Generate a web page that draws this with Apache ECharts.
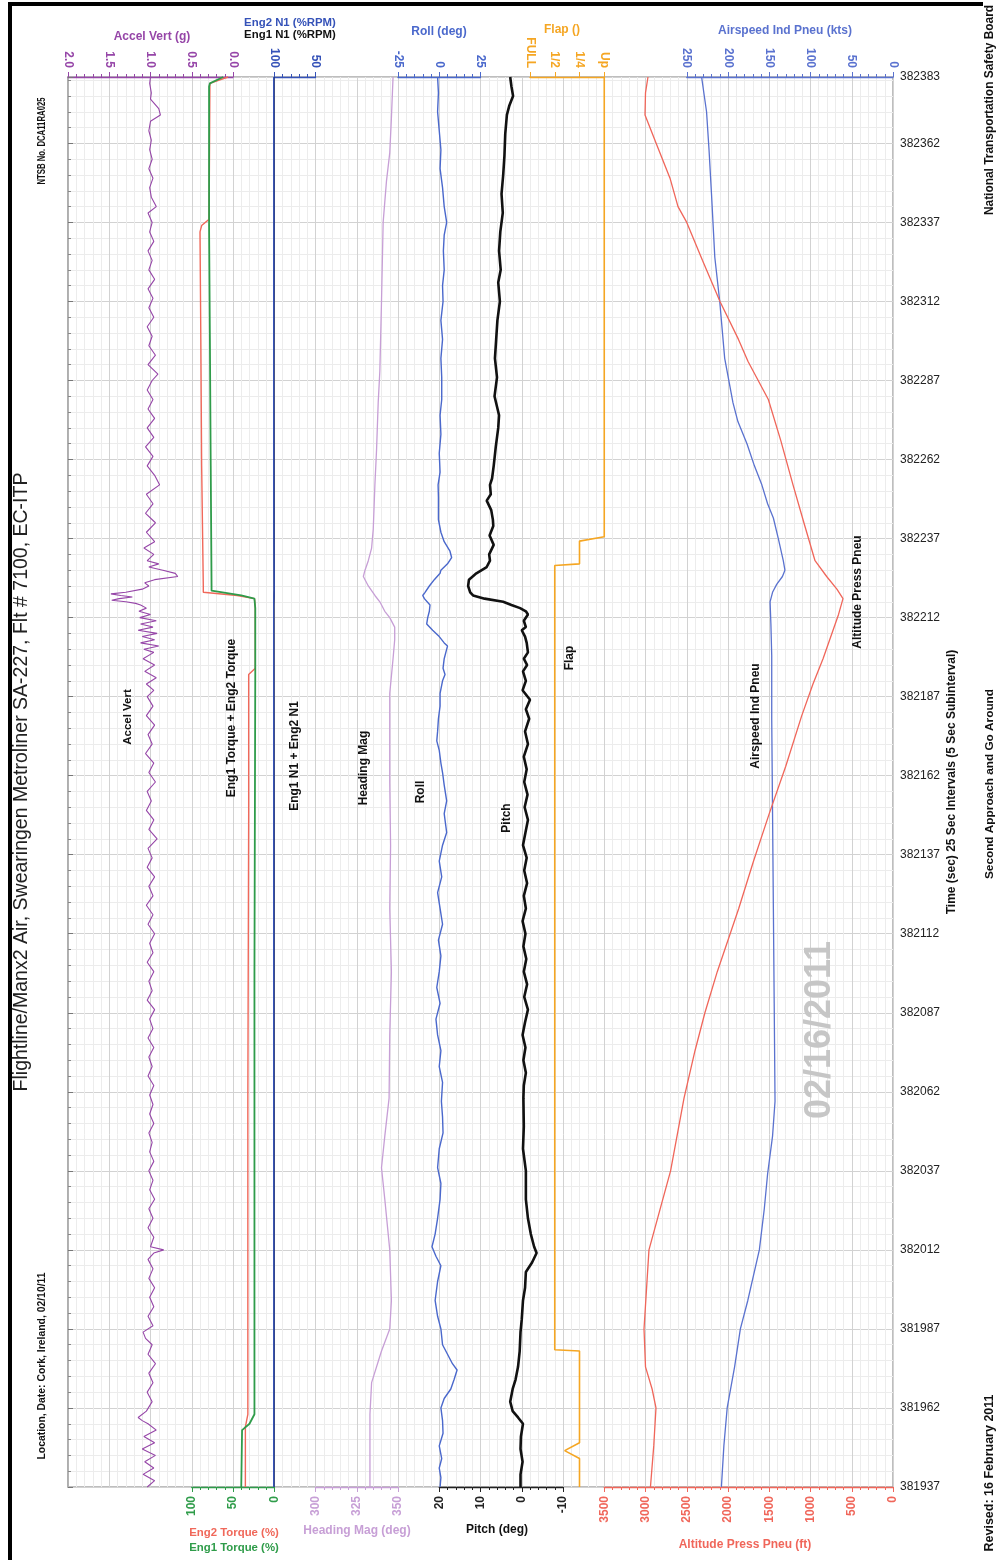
<!DOCTYPE html>
<html><head><meta charset="utf-8">
<script src="https://cdn.jsdelivr.net/npm/echarts@6/dist/echarts.min.js"></script>
<style>html,body{margin:0;padding:0;background:#fff;}#c{width:1003px;height:1560px;}</style>
</head><body><div id="c"></div>
<script>
// ---------------- DATA (time in seconds, value) ----------------
const timeMin = 381937, timeMax = 382383;
const flapTickLabels = ['Up', '1/4', '1/2', 'FULL'];

const accelVert = [
 [382383,1.00],[382381,1.01],[382378,0.99],[382376,1.00],[382373,0.90],[382371,0.88],[382369,1.00],[382366,1.02],[382363,0.99],[382360,1.01],
 [382357,0.98],[382354,1.02],[382351,0.97],[382348,1.01],[382345,0.99],[382342,0.93],[382340,1.03],[382337,0.98],[382334,1.01],[382331,0.96],
 [382328,1.03],[382325,0.98],[382322,1.02],[382319,0.95],[382316,1.03],[382313,0.97],[382310,1.02],[382307,0.96],[382304,1.04],[382301,0.98],
 [382298,1.02],[382295,0.94],[382292,1.03],[382289,0.91],[382287,0.98],[382284,1.04],[382281,0.97],[382278,1.03],[382275,0.95],[382272,1.04],
 [382269,0.96],[382266,1.06],[382263,0.97],[382260,1.04],[382257,0.95],[382254,0.89],[382251,1.05],[382248,0.97],[382245,1.06],[382242,0.94],
 [382239,1.05],[382236,0.95],[382234,1.08],[382232,0.96],[382230,1.04],[382229,0.90],[382228,1.02],[382227,0.85],[382226,0.70],[382225,0.67],
 [382224,0.95],[382223,1.07],[382222,1.02],[382221,1.10],[382220,1.30],[382219.5,1.48],[382219,1.36],[382218.5,1.22],[382218,1.38],[382217.5,1.47],
 [382217,1.30],[382216.5,1.18],[382216,1.12],[382215,1.05],[382214,1.14],[382213,1.00],[382212,1.13],[382211,0.93],[382210,1.12],[382209,0.97],
 [382208,1.15],[382207,0.92],[382206,1.10],[382205,0.95],[382204,1.12],[382203,0.90],[382202,1.08],[382201,0.96],[382199,1.09],[382197,0.95],
 [382195,1.07],[382193,0.93],[382191,1.05],[382189,0.96],[382187,1.04],[382184,0.97],[382181,1.05],[382178,0.95],[382175,1.03],[382172,0.98],
 [382169,1.06],[382166,0.96],[382163,1.02],[382160,0.94],[382157,1.04],[382154,0.99],[382151,1.05],[382148,0.96],[382145,1.02],[382142,0.92],
 [382139,1.03],[382136,0.98],[382133,1.04],[382130,0.95],[382127,1.02],[382124,0.97],[382121,1.05],[382118,0.97],[382115,1.03],[382112,0.95],
 [382109,1.01],[382106,0.97],[382103,1.04],[382100,0.96],[382097,1.02],[382094,0.98],[382091,1.04],[382088,0.95],[382085,1.01],[382082,0.97],
 [382079,1.03],[382076,0.96],[382073,1.02],[382070,0.98],[382067,1.03],[382064,0.96],[382061,1.01],[382058,0.97],[382055,1.01],[382052,0.96],
 [382049,1.02],[382046,0.98],[382043,1.01],[382040,0.96],[382037,1.02],[382034,0.97],[382031,1.01],[382028,0.95],[382025,1.02],[382022,0.97],
 [382019,1.03],[382016,0.96],[382013,1.00],[382012,0.84],[382011,0.96],[382009,1.03],[382006,0.97],[382003,1.02],[382000,0.95],[381997,1.01],
 [381994,0.96],[381991,1.03],[381988,0.97],[381986,1.09],[381984,1.06],[381982,0.98],[381979,1.03],[381976,0.94],[381973,1.02],[381970,0.97],
 [381967,1.04],[381964,0.98],[381961,1.05],[381959,1.15],[381958,1.10],[381957,1.03],[381955,0.93],[381953,1.08],[381951,0.95],[381949,1.10],
 [381947,0.94],[381945,1.07],[381943,0.96],[381941,1.09],[381939,0.95],[381937,1.04]
];

const eng1N1 = [[382383,100.3],[382340,100.1],[382290,100.4],[382240,100.2],[382221,100.0],[382216,100.5],[382150,100.2],[382080,100.3],[382000,100.1],[381937,100.3]];
const eng2N1 = [[382383,100.6],[382340,100.4],[382290,100.7],[382240,100.5],[382221,100.2],[382216,100.8],[382150,100.5],[382080,100.6],[382000,100.4],[381937,100.6]];

const roll = [
 [382383,-1],[382378,-0.5],[382372,-1],[382366,0],[382360,1],[382354,0.5],[382348,2],[382342,3],[382337,4.5],[382333,3],
 [382328,2.5],[382322,3],[382317,2],[382312,2.3],[382306,1],[382300,2],[382294,1],[382288,1.5],[382281,1.5],[382276,0.5],
 [382270,1],[382264,0],[382258,0.5],[382254,-0.7],[382250,-0.5],[382247,-0.5],[382243,-0.5],[382239,1],[382236,3],[382233,6.5],
 [382231,7.5],[382229,5],[382227,1],[382226,0.5],[382224,-3],[382222,-6],[382220,-8.6],[382219,-10],[382218,-9],[382216,-5.6],
 [382214,-6],[382212,-7],[382210,-7.6],[382208,-4],[382206,0],[382204,3],[382203,5],[382201,4],[382199,3],[382196,2.3],
 [382194,3.5],[382192,2],[382188,0.5],[382184,0.5],[382180,-0.5],[382176,-1],[382173,-1.5],[382170,0],[382166,1],[382163,2],
 [382159,3],[382154,4.5],[382150,3],[382146,4],[382144,4.5],[382140,2],[382135,0],[382130,1.5],[382125,-1],[382120,0.5],
 [382115,2],[382110,-0.5],[382105,1],[382100,0],[382095,-1.5],[382090,0.5],[382085,-2],[382080,-1],[382075,1],[382070,0],
 [382065,2],[382059,1.3],[382054,2],[382049,2.3],[382044,0],[382038,-1],[382033,1],[382028,0.5],[382022,-1],[382017,-2.5],
 [382013,-4.4],[382010,-2],[382007,1],[382002,-1],[381996,-2.5],[381991,-1],[381987,1],[381982,2],[381979,5],[381976,8],
 [381974,10.8],[381971,9],[381968,7],[381965,3],[381962,1],[381958,2],[381954,2.3],[381950,0],[381946,1.5],[381943,0],
 [381940,1],[381937,0.5]
];

const pitch = [
 [382383,2.8],[382380,2.5],[382377,2.1],[382374,3],[382371,3.6],[382365,4],[382358,4.2],[382352,4.5],[382346,4.9],[382340,4.6],
 [382334,5.2],[382328,5.5],[382322,5.1],[382318,5.7],[382312,5.3],[382306,5.9],[382300,6.2],[382294,6.5],[382288,6.0],[382282,6.6],
 [382276,5.5],[382272,5.7],[382266,6.3],[382260,6.8],[382256,7.2],[382254,7.7],[382251,7.5],[382249,8.5],[382246,7.4],[382243,7.0],
 [382241,6.9],[382238,7.8],[382235,6.8],[382232,7.9],[382230,7.7],[382228,8.5],[382226,11.0],[382224,12.8],[382222,13.0],[382220,12.5],
 [382219,11.8],[382218,9.0],[382217,4.5],[382216,2.5],[382215,0.4],[382214,-1.0],[382213,-1.5],[382211,-0.5],[382209,-1.0],[382208,0],
 [382206,-0.8],[382204,-1.2],[382201,-1.5],[382199,-0.5],[382197,-1.3],[382195,-0.3],[382192,-1.0],[382189,-0.2],[382186,-2.0],[382183,-1.0],
 [382180,-1.8],[382176,-0.8],[382172,-1.5],[382168,-0.5],[382164,-1.2],[382160,-0.6],[382156,-1.4],[382152,-0.7],[382148,-1.5],[382144,-0.9],
 [382140,-0.3],[382136,-1.2],[382132,-0.6],[382128,-1.3],[382124,-0.5],[382120,-1.0],[382116,-0.2],[382112,-0.9],[382108,-0.4],[382104,-1.1],
 [382100,-0.5],[382096,-1.3],[382092,-0.6],[382088,-1.5],[382084,-0.8],[382080,-0.2],[382076,-0.9],[382072,-0.4],[382068,-1.0],[382064,-0.5],
 [382060,-0.4],[382051,-0.5],[382044,-0.3],[382037,-1.0],[382028,-1.0],[382022,-1.5],[382017,-2.2],[382013,-3.0],[382011,-3.6],[382008,-2.5],
 [382005,-1.0],[382000,-0.8],[381996,-0.3],[381990,0],[381986,0.3],[381980,0.5],[381975,0.9],[381971,1.5],[381968,2.2],[381964,2.8],
 [381961,2.2],[381959,0.9],[381957,-0.3],[381953,0.2],[381949,0.3],[381945,-0.2],[381941,0.3],[381937,0.3]
];

const headingMag = [
 [382383,347],[382370,346],[382359,345],[382350,343],[382337,341],[382312,340],[382290,339],[382280,338],[382265,337],[382254,336],
 [382240,335],[382234,334],[382230,332],[382227,330],[382225,329],[382222,332],[382219,336],[382217,339],[382214,342],[382212,345],
 [382209,348],[382205,348],[382199,347],[382188,345],[382175,345],[382160,345],[382140,345.5],[382120,345],[382100,346],[382080,345],
 [382060,344.6],[382048,342],[382038,340],[382028,342],[382012,345],[381996,346],[381987,345],[381980,340],[381970,334],[381960,333],
 [381937,333]
];

// Flap position index: 0 = Up, 1 = 1/4, 2 = 1/2, 3 = FULL
const flap = [
 [382383,0],[382237.6,0],[382236.2,1],[382229,1],[382228.5,2],[381980.4,2],[381980,1],[381951,1],[381948.5,1.6],[381946,1],[381937,1]
];

const airspeed = [
 [382383,232],[382372,226],[382360,223],[382346,220],[382326,216],[382312,210],[382294,204],[382280,194],[382274,188],[382267,177],
 [382260,168],[382254,159],[382248,152],[382243.5,145],[382237,139],[382230,133],[382227,131],[382225,134],[382222.5,141],[382220,146],
 [382217,149],[382210,148],[382200,147],[382180,147],[382150,146],[382120,145],[382090,144],[382059,143],[382048,146],[382036,152],
 [382025,156],[382012,162],[381996,176],[381987,185],[381975,192],[381962,201],[381950,205],[381937,208]
];

const altitude = [
 [382383,2970],[382378,3000],[382371,3006],[382362,2870],[382351,2703],[382342,2606],[382337,2500],[382325,2310],[382312,2097],[382300,1873],
 [382293,1757],[382281,1511],[382268,1360],[382254,1212],[382242,1080],[382230,945],[382225,804],[382221,680],[382218,606],[382213,660],
 [382208,727],[382199,848],[382191,970],[382181,1106],[382165,1300],[382150,1500],[382135,1690],[382120,1870],[382100,2130],[382087,2280],
 [382075,2400],[382060,2533],[382037,2696],[382012,2958],[381987,3018],[381975,3000],[381968,2920],[381962,2873],[381950,2900],[381937,2940]
];

const eng1Torque = [
 [382383,62],[382381,78],[382380,79],[382360,79],[382336,79],[382300,78],[382260,77],[382222,76],[382220.5,76],[382219,40],
 [382218,24],[382215,23],[382195,23],[382100,24],[382040,24],[381960,24],[381957,30],[381955,39],[381937,40]
];
const eng2Torque = [
 [382383,56],[382381,78],[382338,79],[382336,88],[382334,90],[382300,89],[382260,88],[382222,86],[382220,86],[382219,45],
 [382218,24],[382215,23],[382196,23],[382194,31],[382150,31],[382060,32],[381960,32],[381956,35],[381937,35]
];

// ---------------- LAYOUT ----------------
const W = 1003, H = 1560;
const PL = 68, PR = 893, PT = 77, PB = 1487;
const col = k => PL + k * (PR - PL) / 20;
const NARROW = "'Liberation Sans Narrow','Arial Narrow','Liberation Sans',Arial,sans-serif";
const SANS = "'Liberation Sans',Arial,sans-serif";

const C = {
  accel: '#9646a8', torque2: '#f0685a', torque1: '#2f9c4a', n1e2: '#3552b8', n1e1: '#111111',
  heading: '#c79fd6', roll: '#4a68cc', pitch: '#111111', flap: '#f5a623', airspeed: '#5a72cf', alt: '#f0665a'
};

const axesDef = [
  {l: col(0), r: col(4), pos: 'top', min: 0, max: 2, interval: 0.5, inverse: true, color: C.accel, minor: 5, fmt: v => v.toFixed(1)},
  {l: col(5), r: col(6), pos: 'top', min: 50, max: 100, interval: 50, inverse: true, color: C.n1e2, minor: 5},
  {l: col(8), r: col(10), pos: 'top', min: -25, max: 25, interval: 25, inverse: false, color: C.roll, minor: 5},
  {l: 530, r: col(13), pos: 'top', min: 0, max: 3, interval: 1, inverse: true, color: C.flap, minor: 0, fmt: v => flapTickLabels[Math.round(v)]},
  {l: col(15), r: col(20), pos: 'top', min: 0, max: 250, interval: 50, inverse: true, color: C.airspeed, minor: 5},
  {l: col(3), r: col(5), pos: 'bottom', min: 0, max: 100, interval: 50, inverse: true, color: C.torque1, minor: 5},
  {l: col(6), r: col(8), pos: 'bottom', min: 300, max: 350, interval: 25, inverse: false, color: C.heading, minor: 5},
  {l: col(9), r: col(12), pos: 'bottom', min: -10, max: 20, interval: 10, inverse: true, color: '#222', minor: 5},
  {l: col(13), r: col(20), pos: 'bottom', min: 0, max: 3500, interval: 500, inverse: true, color: C.alt, minor: 5}
];

const grids = [{left: PL, right: W - PR, top: PT, bottom: H - PB, show: true, borderColor: '#a9a9a9', borderWidth: 1.5, backgroundColor: 'transparent', z: 0}];
const xAxes = [{
  gridIndex: 0, type: 'value', min: 0, max: 20, interval: 1,
  axisLine: {show: false}, axisTick: {show: false}, axisLabel: {show: false},
  splitLine: {show: true, lineStyle: {color: '#d2d2d2', width: 1}},
  minorTick: {show: false, splitNumber: 5},
  minorSplitLine: {show: true, lineStyle: {color: '#ececec', width: 1}}
}];
const yAxes = [{
  gridIndex: 0, type: 'value', position: 'right', min: timeMin, max: timeMax, interval: 25,
  axisLine: {show: true, lineStyle: {color: '#a9a9a9', width: 1.5}},
  axisTick: {show: true, length: 5, lineStyle: {color: '#777'}},
  minorTick: {show: true, splitNumber: 5, length: 3, lineStyle: {color: '#888'}},
  splitLine: {show: true, lineStyle: {color: '#d2d2d2', width: 1}},
  minorSplitLine: {show: true, lineStyle: {color: '#ececec', width: 1}},
  axisLabel: {color: '#222', fontSize: 12, fontFamily: SANS, margin: 7, formatter: v => String(v)}
}];

axesDef.forEach((a, i) => {
  const gi = i + 1;
  grids.push({left: a.l, right: W - a.r, top: PT, bottom: H - PB, show: false});
  xAxes.push({
    gridIndex: gi, type: 'value', position: a.pos, min: a.min, max: a.max, interval: a.interval, inverse: a.inverse,
    axisLine: {show: true, onZero: false, lineStyle: {color: a.color, width: 1.3}},
    axisTick: {show: true, length: 5, lineStyle: {color: a.color}},
    minorTick: {show: a.minor > 0, splitNumber: a.minor || 5, length: 3, lineStyle: {color: a.color}},
    splitLine: {show: false},
    axisLabel: {rotate: 90, color: a.color, fontSize: 12, fontWeight: 'bold', fontFamily: NARROW, margin: 9,
                formatter: a.fmt ? a.fmt : (v => String(v))}
  });
  yAxes.push({gridIndex: gi, type: 'value', min: timeMin, max: timeMax, show: false});
});

function ser(name, data, axis, color, width, z) {
  return {type: 'line', name, xAxisIndex: axis, yAxisIndex: axis, data: data.map(p => [p[1], p[0]]),
          symbol: 'none', clip: false, silent: true, lineStyle: {color, width}, z: z || 2};
}

const series = [
  ser('Accel Vert', accelVert, 1, C.accel, 1.1),
  ser('Eng1 N1', eng1N1, 2, C.n1e1, 1.4),
  ser('Eng2 N1', eng2N1, 2, C.n1e2, 1.6),
  ser('Roll', roll, 3, C.roll, 1.4),
  ser('Flap', flap, 4, C.flap, 1.6),
  ser('Airspeed Ind Pneu', airspeed, 5, C.airspeed, 1.3),
  ser('Eng2 Torque', eng2Torque, 6, C.torque2, 1.4),
  ser('Eng1 Torque', eng1Torque, 6, C.torque1, 1.8),
  ser('Heading Mag', headingMag, 7, C.heading, 1.3),
  ser('Pitch', pitch, 8, C.pitch, 2.6, 3),
  ser('Altitude Press Pneu', altitude, 9, C.alt, 1.3)
];

// ---------------- TEXT ----------------
function vtext(x, y, text, size, opts) {
  opts = opts || {};
  return {type: 'text', x, y, rotation: Math.PI / 2, scaleX: opts.sx || 1, z: opts.z || 10, silent: true,
    style: {text, fill: opts.fill || '#111', fontSize: size, fontWeight: opts.weight || 'bold',
            fontFamily: opts.family || NARROW, align: 'center', verticalAlign: 'middle'}};
}
function htext(x, y, text, size, fill, opts) {
  opts = opts || {};
  return {type: 'text', x, y, z: 10, silent: true,
    style: {text, fill, fontSize: size, fontWeight: opts.weight || 'bold', fontFamily: opts.family || NARROW,
            align: 'center', verticalAlign: 'middle'}};
}

const graphics = [
  {type: 'rect', shape: {x: 8, y: 2, width: 4, height: 1560}, style: {fill: '#000'}, silent: true},
  {type: 'rect', shape: {x: 8, y: 2, width: 975, height: 4}, style: {fill: '#000'}, silent: true},
  vtext(22, 782, 'Flightline/Manx2 Air, Swearingen Metroliner SA-227, Flt # 7100, EC-ITP', 19.5, {weight: 'normal', family: SANS, fill: '#222'}),
  vtext(42, 141, 'NTSB No. DCA11RA025', 10.5, {sx: 0.74}),
  vtext(42, 1366, 'Location, Date: Cork, Ireland, 02/10/11', 10.4),
  vtext(990, 110, 'National Transportation Safety Board', 11.9),
  vtext(990, 784, 'Second Approach and Go Around', 11.8),
  vtext(990, 1473, 'Revised: 16 February 2011', 12.5),
  vtext(952, 782, 'Time (sec) 25 Sec Intervals (5 Sec Subinterval)', 12),
  vtext(820, 1030, '02/16/2011', 36, {fill: '#c6c6c6', family: SANS, z: 1}),
  vtext(128, 717, 'Accel Vert', 11.5),
  vtext(232, 718, 'Eng1 Torque + Eng2 Torque', 12),
  vtext(295, 756, 'Eng1 N1 + Eng2 N1', 12),
  vtext(364, 768, 'Heading Mag', 12),
  vtext(421, 792, 'Roll', 12),
  vtext(507, 818, 'Pitch', 12),
  vtext(570, 658, 'Flap', 12),
  vtext(756, 716, 'Airspeed Ind Pneu', 12),
  vtext(858, 592, 'Altitude Press Pneu', 12),
  htext(152, 37, 'Accel Vert (g)', 12, C.accel),
  htext(290, 23, 'Eng2 N1 (%RPM)', 11.4, C.n1e2),
  htext(290, 35, 'Eng1 N1 (%RPM)', 11.4, '#111'),
  htext(439, 32, 'Roll (deg)', 12, C.roll),
  htext(562, 30, 'Flap ()', 12, C.flap),
  htext(785, 31, 'Airspeed Ind Pneu (kts)', 12, C.airspeed),
  htext(234, 1533, 'Eng2 Torque (%)', 11.4, C.torque2),
  htext(234, 1548, 'Eng1 Torque (%)', 11.4, C.torque1),
  htext(357, 1531, 'Heading Mag (deg)', 12, C.heading),
  htext(497, 1530, 'Pitch (deg)', 12, '#111'),
  htext(745, 1545, 'Altitude Press Pneu (ft)', 12, C.alt)
];

const chart = echarts.init(document.getElementById('c'), null, {renderer: 'canvas'});
chart.setOption({
  animation: false,
  backgroundColor: '#fff',
  grid: grids, xAxis: xAxes, yAxis: yAxes, series,
  graphic: graphics
});
</script></body></html>
